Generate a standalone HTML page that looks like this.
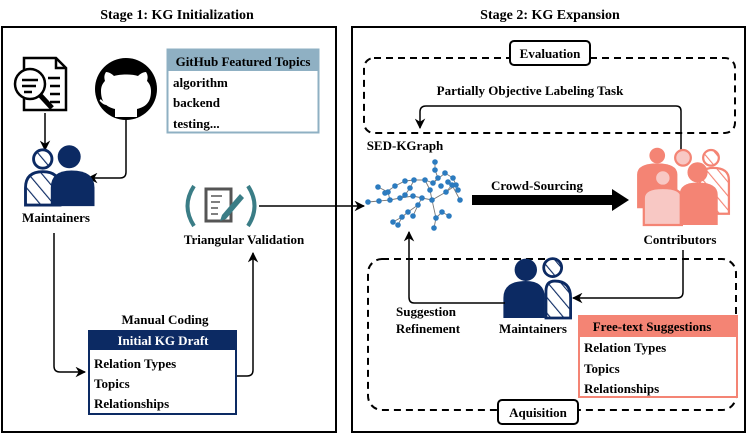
<!DOCTYPE html>
<html><head><meta charset="utf-8"><style>
html,body{margin:0;padding:0;background:#fff;}
svg{display:block;font-family:"Liberation Serif",serif;font-weight:bold;}
</style></head><body>
<svg width="747" height="435" viewBox="0 0 747 435" xmlns="http://www.w3.org/2000/svg">
<defs>
<marker id="ah" viewBox="0 0 10 10" refX="9" refY="5" markerWidth="7" markerHeight="7" orient="auto-start-reverse"><path d="M0,0 L10,5 L0,10 L3,5 z" fill="#000"/></marker>
<pattern id="hatchB" patternUnits="userSpaceOnUse" width="9" height="9" patternTransform="rotate(-40)"><line x1="0" y1="0" x2="0" y2="9" stroke="#0c2a63" stroke-width="2"/></pattern>
<pattern id="hatchR" patternUnits="userSpaceOnUse" width="8" height="8" patternTransform="rotate(-40)"><line x1="0" y1="0" x2="0" y2="8" stroke="#f48474" stroke-width="2"/></pattern>
</defs>

<text x="177" y="19" font-size="14" text-anchor="middle">Stage 1: KG Initialization</text>
<text x="550" y="19" font-size="14" text-anchor="middle">Stage 2: KG Expansion</text>

<rect x="2" y="27" width="334" height="405" fill="none" stroke="#000" stroke-width="2"/>
<rect x="352" y="27" width="393" height="405" fill="none" stroke="#000" stroke-width="2"/>

<g stroke="#000" stroke-width="2.5" fill="none">
<path d="M24,58 H56 L66,68 V110 H24 Z"/>
<path d="M56,58 V68 H66"/>
<line x1="48" y1="78" x2="60" y2="78"/><line x1="50" y1="86" x2="60" y2="86"/><line x1="50" y1="94" x2="60" y2="94"/><line x1="50" y1="102" x2="60" y2="102"/>
<circle cx="30" cy="84" r="15" fill="#fff"/>
<line x1="40" y1="95" x2="52" y2="108" stroke-width="5"/>
<line x1="22" y1="80" x2="38" y2="80"/><line x1="22" y1="86" x2="36" y2="86"/><line x1="24" y1="92" x2="32" y2="92"/>
</g>
<circle cx="126" cy="89" r="31" fill="#000"/>
<path d="M115,117 v-8 c-8,-2 -14,-6 -14,-18 c0,-5 2,-8 4,-10 c-1,-3 -1,-6 1,-9 c3,0 6,2 8,4 c6,-2 18,-2 24,0 c2,-2 5,-4 8,-4 c2,3 2,6 1,9 c2,2 4,5 4,10 c0,12 -6,16 -14,18 v8 z" fill="#fff"/>
<path d="M107,104 c-4,0 -5,-3 -7,-4" stroke="#fff" stroke-width="2" fill="none"/>

<rect x="167.5" y="49.5" width="151" height="83" fill="#fff" stroke="#8fb0c3" stroke-width="2"/>
<rect x="167" y="49" width="152" height="22" fill="#8fb0c3"/>
<text x="243" y="66" font-size="13" text-anchor="middle">GitHub Featured Topics</text>
<text x="173" y="87" font-size="13">algorithm</text>
<text x="173" y="107" font-size="13">backend</text>
<text x="173" y="128" font-size="13">testing...</text>

<path d="M45,113 V150" stroke="#000" stroke-width="1.5" fill="none" marker-end="url(#ah)"/>
<path d="M126,117 V172 Q126,178 120,178 H88" stroke="#000" stroke-width="1.5" fill="none" marker-end="url(#ah)"/>

<g transform="translate(60,205) scale(1.15) translate(-60,-205)">
<circle cx="45" cy="165" r="8" fill="url(#hatchB)" stroke="#0c2a63" stroke-width="2.5"/>
<path d="M30,205 V190 Q30,176 45,176 Q60,176 60,190 V205 Z" fill="url(#hatchB)" stroke="#0c2a63" stroke-width="2.5"/>
<circle cx="68" cy="163" r="10" fill="#0c2a63"/>
<path d="M52,206 V190 Q52,175 70,175 Q90,175 90,190 V206 Z" fill="#0c2a63"/>
</g>
<text x="56" y="222" font-size="13" text-anchor="middle">Maintainers</text>

<path d="M194,186 Q181,206 194,226" stroke="#3a7d86" stroke-width="4" fill="none"/>
<path d="M248,186 Q261,206 248,226" stroke="#3a7d86" stroke-width="4" fill="none"/>
<rect x="206" y="189" width="25" height="32" fill="none" stroke="#555" stroke-width="3"/>
<g stroke="#555" stroke-width="1.5"><line x1="211" y1="196" x2="222" y2="196"/><line x1="211" y1="202" x2="220" y2="202"/><line x1="211" y1="208" x2="218" y2="208"/><line x1="211" y1="214" x2="218" y2="214"/></g>
<path d="M222,215 L240,194 L244,198 L226,219 L220,221 Z" fill="#3a7d86"/>
<text x="244" y="244" font-size="13" text-anchor="middle">Triangular Validation</text>
<line x1="259" y1="206" x2="364" y2="206" stroke="#000" stroke-width="1.5" marker-end="url(#ah)"/>

<path d="M54,233 V366 Q54,372 60,372 H85" stroke="#000" stroke-width="1.5" fill="none" marker-end="url(#ah)"/>
<text x="165" y="324" font-size="13" text-anchor="middle">Manual Coding</text>
<rect x="89" y="331" width="147" height="83" fill="#fff" stroke="#0c2a63" stroke-width="2"/>
<rect x="88" y="330" width="149" height="20" fill="#0c2a63"/>
<text x="163" y="345" font-size="13" text-anchor="middle" fill="#fff">Initial KG Draft</text>
<text x="94" y="368" font-size="13">Relation Types</text>
<text x="94" y="388" font-size="13">Topics</text>
<text x="94" y="408" font-size="13">Relationships</text>
<path d="M237,376 H247 Q253,376 253,370 V253" stroke="#000" stroke-width="1.5" fill="none" marker-end="url(#ah)"/>

<rect x="364" y="58" width="371" height="75" rx="10" fill="none" stroke="#000" stroke-width="2" stroke-dasharray="7,5"/>
<rect x="510" y="41" width="80" height="24" rx="4" fill="#fff" stroke="#000" stroke-width="2"/>
<text x="550" y="58" font-size="13" text-anchor="middle">Evaluation</text>
<text x="530" y="95" font-size="13" text-anchor="middle">Partially Objective Labeling Task</text>
<path d="M681,160 V111 Q681,106 676,106 H426 Q420,106 420,112 V128" stroke="#000" stroke-width="1.5" fill="none" marker-end="url(#ah)"/>

<rect x="368" y="259" width="368" height="151" rx="14" fill="none" stroke="#000" stroke-width="2" stroke-dasharray="7,5"/>
<rect x="498" y="400" width="80" height="24" rx="4" fill="#fff" stroke="#000" stroke-width="2"/>
<text x="538" y="417" font-size="13" text-anchor="middle">Aquisition</text>

<text x="405" y="150" font-size="13" text-anchor="middle">SED-KGraph</text>
<g stroke="#777" stroke-width="0.9">
<polyline points="368,202 379,201 390,200 400,198 413,196 422,198 432,200 446,192 456,185" fill="none"/>
<polyline points="385,193 395,186 405,181 414,180 425,180 433,183 445,173 453,178 458,190" fill="none"/>
<polyline points="435,160 435,170 438,178 433,183" fill="none"/>
<polyline points="422,198 418,205 408,212 402,217 398,225" fill="none"/>
<polyline points="418,205 413,216" fill="none"/>
<polyline points="432,200 436,218 442,212 449,216" fill="none"/>
<polyline points="436,218 434,228" fill="none"/>
<polyline points="402,217 393,222" fill="none"/>
<polyline points="400,198 405,195 410,188 414,180" fill="none"/>
<polyline points="446,192 452,185 460,200" fill="none"/>
<polyline points="390,200 388,192 378,187" fill="none"/>
<polyline points="425,180 430,190 432,200" fill="none"/>
</g>
<g fill="#2c7bbf">
<circle cx="368" cy="202" r="2.8"/><circle cx="379" cy="201" r="2.8"/><circle cx="390" cy="200" r="2.8"/><circle cx="400" cy="198" r="2.8"/><circle cx="413" cy="196" r="2.8"/><circle cx="422" cy="198" r="2.8"/><circle cx="432" cy="200" r="2.8"/><circle cx="446" cy="192" r="2.8"/><circle cx="456" cy="185" r="2.8"/>
<circle cx="385" cy="193" r="2.8"/><circle cx="395" cy="186" r="2.8"/><circle cx="405" cy="181" r="2.8"/><circle cx="414" cy="180" r="2.8"/><circle cx="425" cy="180" r="2.8"/><circle cx="433" cy="183" r="2.8"/><circle cx="445" cy="173" r="2.8"/><circle cx="453" cy="178" r="2.8"/><circle cx="458" cy="190" r="2.8"/>
<circle cx="435" cy="162" r="2.8"/><circle cx="435" cy="170" r="2.8"/><circle cx="438" cy="178" r="2.8"/>
<circle cx="418" cy="205" r="2.8"/><circle cx="408" cy="212" r="2.8"/><circle cx="402" cy="217" r="2.8"/><circle cx="398" cy="225" r="2.8"/><circle cx="413" cy="216" r="2.8"/><circle cx="393" cy="222" r="2.8"/>
<circle cx="436" cy="218" r="2.8"/><circle cx="442" cy="212" r="2.8"/><circle cx="449" cy="216" r="2.8"/><circle cx="434" cy="228" r="2.8"/>
<circle cx="405" cy="195" r="2.8"/><circle cx="410" cy="188" r="2.8"/><circle cx="460" cy="200" r="2.8"/><circle cx="452" cy="185" r="2.8"/><circle cx="388" cy="192" r="2.8"/><circle cx="378" cy="187" r="2.8"/><circle cx="430" cy="190" r="2.8"/><circle cx="448" cy="182" r="2.8"/><circle cx="441" cy="186" r="2.8"/>
</g>

<text x="537" y="190" font-size="13" text-anchor="middle">Crowd-Sourcing</text>
<path d="M472,195 H612 V189 L629,200 L612,211 V205 H472 Z" fill="#000"/>

<g transform="translate(683,225) scale(1.12) translate(-681,-225)">
<circle cx="658" cy="163" r="7" fill="#f48474"/>
<path d="M640,210 V180 Q640,170 658,170 Q676,170 676,180 V210 Z" fill="#f48474"/>
<circle cx="681" cy="165" r="7" fill="#f8c8c4" stroke="#f48474" stroke-width="2"/>
<circle cx="706" cy="165" r="7" fill="url(#hatchR)" stroke="#f48474" stroke-width="2"/>
<path d="M696,215 V185 Q696,174 708,174 Q722,174 722,185 V215 Z" fill="url(#hatchR)" stroke="#f48474" stroke-width="2"/>
<circle cx="663" cy="183" r="7" fill="#f8c8c4" stroke="#f48474" stroke-width="2"/>
<path d="M646,225 V201 Q646,192 663,192 Q680,192 680,201 V225 Z" fill="#f8c8c4" stroke="#f48474" stroke-width="2"/>
<circle cx="694" cy="178" r="9" fill="#f48474"/>
<path d="M678,225 V198 Q678,187 694,187 Q712,187 712,198 V225 Z" fill="#f48474"/>
</g>
<text x="680" y="244" font-size="13" text-anchor="middle">Contributors</text>

<path d="M683,250 V292 Q683,298 677,298 H573" stroke="#000" stroke-width="1.5" fill="none" marker-end="url(#ah)"/>

<g transform="translate(537,318) scale(1.12) translate(-537,-318)">
<circle cx="527" cy="275" r="10" fill="#0c2a63"/>
<path d="M507,318 V300 Q507,285 527,285 Q544,285 544,300 V318 Z" fill="#0c2a63"/>
<circle cx="551" cy="273" r="8" fill="url(#hatchB)" stroke="#0c2a63" stroke-width="2.5"/>
<path d="M545,318 V294 Q545,285 553,285 Q567,285 567,300 V318 Z" fill="url(#hatchB)" stroke="#0c2a63" stroke-width="2.5"/>
</g>
<text x="533" y="333" font-size="13" text-anchor="middle">Maintainers</text>

<path d="M505,303 H414 Q409,303 409,297 V232" stroke="#000" stroke-width="1.5" fill="none" marker-end="url(#ah)"/>
<text x="426" y="316" font-size="13" text-anchor="middle">Suggestion</text>
<text x="428" y="333" font-size="13" text-anchor="middle">Refinement</text>

<rect x="579" y="316" width="158" height="81" fill="#fff" stroke="#f48474" stroke-width="2"/>
<rect x="578" y="315" width="160" height="22" fill="#f48474"/>
<text x="652" y="331" font-size="13" text-anchor="middle">Free-text Suggestions</text>
<text x="584" y="352" font-size="13">Relation Types</text>
<text x="584" y="373" font-size="13">Topics</text>
<text x="584" y="393" font-size="13">Relationships</text>
</svg>
</body></html>
